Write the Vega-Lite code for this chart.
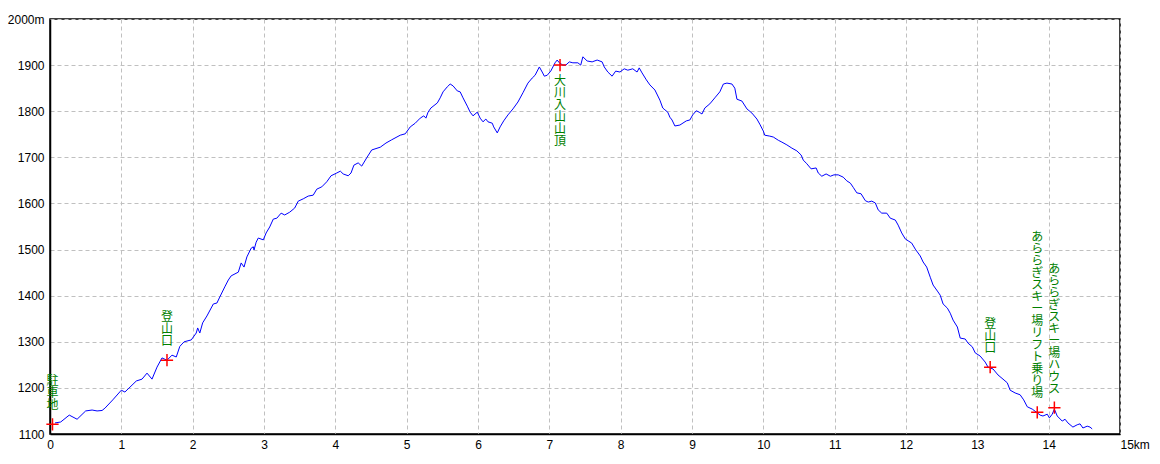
{
  "$schema": "https://vega.github.io/schema/vega-lite/v6.json",
  "width": 1070,
  "height": 415,
  "autosize": {"type": "none"},
  "padding": {"left": 50, "top": 19, "right": 40, "bottom": 30},
  "background": "white",
  "config": {
    "view": {"stroke": "black", "strokeWidth": 1.5},
    "axis": {
      "domainColor": "black", "domainWidth": 1.5, "ticks": false,
      "grid": true, "gridColor": "#c0c0c0", "gridDash": [4, 3], "gridWidth": 1,
      "labelFont": "Liberation Sans", "labelFontSize": 12, "labelColor": "black",
      "title": null
    }
  },
  "datasets": {
    "profile": [
      {"km":0.07,"m":1124},{"km":0.15,"m":1126},{"km":0.27,"m":1141},{"km":0.38,"m":1132},{"km":0.50,"m":1150},{"km":0.59,"m":1152},{"km":0.66,"m":1150},{"km":0.73,"m":1151},{"km":0.77,"m":1156},{"km":0.88,"m":1174},{"km":1.00,"m":1195},{"km":1.05,"m":1191},{"km":1.21,"m":1215},{"km":1.29,"m":1219},{"km":1.36,"m":1232},{"km":1.43,"m":1219},{"km":1.50,"m":1245},{"km":1.57,"m":1265},{"km":1.64,"m":1260},{"km":1.71,"m":1271},{"km":1.77,"m":1267},{"km":1.82,"m":1290},{"km":1.88,"m":1300},{"km":1.98,"m":1304},{"km":2.05,"m":1319},{"km":2.07,"m":1330},{"km":2.10,"m":1319},{"km":2.14,"m":1341},{"km":2.20,"m":1356},{"km":2.29,"m":1382},{"km":2.34,"m":1384},{"km":2.38,"m":1397},{"km":2.45,"m":1419},{"km":2.50,"m":1434},{"km":2.54,"m":1443},{"km":2.64,"m":1451},{"km":2.68,"m":1471},{"km":2.72,"m":1462},{"km":2.76,"m":1484},{"km":2.82,"m":1503},{"km":2.85,"m":1506},{"km":2.86,"m":1499},{"km":2.89,"m":1516},{"km":2.92,"m":1525},{"km":2.99,"m":1521},{"km":3.03,"m":1536},{"km":3.08,"m":1549},{"km":3.13,"m":1566},{"km":3.18,"m":1568},{"km":3.24,"m":1579},{"km":3.29,"m":1575},{"km":3.36,"m":1581},{"km":3.43,"m":1590},{"km":3.48,"m":1605},{"km":3.55,"m":1610},{"km":3.62,"m":1616},{"km":3.69,"m":1618},{"km":3.74,"m":1631},{"km":3.81,"m":1636},{"km":3.88,"m":1647},{"km":3.94,"m":1660},{"km":4.02,"m":1666},{"km":4.07,"m":1670},{"km":4.11,"m":1664},{"km":4.18,"m":1660},{"km":4.22,"m":1666},{"km":4.26,"m":1683},{"km":4.32,"m":1688},{"km":4.37,"m":1681},{"km":4.44,"m":1699},{"km":4.51,"m":1716},{"km":4.63,"m":1722},{"km":4.71,"m":1731},{"km":4.79,"m":1738},{"km":4.91,"m":1748},{"km":4.98,"m":1751},{"km":5.05,"m":1766},{"km":5.12,"m":1774},{"km":5.19,"m":1785},{"km":5.24,"m":1790},{"km":5.27,"m":1785},{"km":5.30,"m":1798},{"km":5.34,"m":1807},{"km":5.43,"m":1818},{"km":5.47,"m":1829},{"km":5.51,"m":1842},{"km":5.57,"m":1853},{"km":5.61,"m":1859},{"km":5.65,"m":1855},{"km":5.71,"m":1844},{"km":5.75,"m":1842},{"km":5.79,"m":1829},{"km":5.85,"m":1811},{"km":5.89,"m":1798},{"km":5.93,"m":1790},{"km":5.99,"m":1798},{"km":6.03,"m":1785},{"km":6.07,"m":1777},{"km":6.11,"m":1783},{"km":6.14,"m":1777},{"km":6.20,"m":1774},{"km":6.22,"m":1766},{"km":6.27,"m":1753},{"km":6.31,"m":1766},{"km":6.36,"m":1779},{"km":6.42,"m":1792},{"km":6.49,"m":1805},{"km":6.56,"m":1820},{"km":6.63,"m":1840},{"km":6.70,"m":1861},{"km":6.76,"m":1872},{"km":6.80,"m":1878},{"km":6.86,"m":1896},{"km":6.90,"m":1885},{"km":6.93,"m":1876},{"km":6.97,"m":1878},{"km":7.02,"m":1887},{"km":7.08,"m":1905},{"km":7.11,"m":1911},{"km":7.14,"m":1905},{"km":7.19,"m":1900},{"km":7.23,"m":1900},{"km":7.28,"m":1907},{"km":7.33,"m":1905},{"km":7.40,"m":1905},{"km":7.44,"m":1900},{"km":7.47,"m":1918},{"km":7.53,"m":1909},{"km":7.60,"m":1907},{"km":7.67,"m":1911},{"km":7.74,"m":1907},{"km":7.77,"m":1896},{"km":7.82,"m":1885},{"km":7.88,"m":1876},{"km":7.93,"m":1887},{"km":7.99,"m":1885},{"km":8.05,"m":1892},{"km":8.10,"m":1889},{"km":8.17,"m":1892},{"km":8.23,"m":1885},{"km":8.26,"m":1894},{"km":8.30,"m":1883},{"km":8.36,"m":1868},{"km":8.41,"m":1857},{"km":8.48,"m":1846},{"km":8.55,"m":1824},{"km":8.59,"m":1807},{"km":8.62,"m":1803},{"km":8.66,"m":1798},{"km":8.69,"m":1787},{"km":8.72,"m":1781},{"km":8.76,"m":1768},{"km":8.83,"m":1770},{"km":8.92,"m":1779},{"km":8.97,"m":1781},{"km":9.01,"m":1792},{"km":9.06,"m":1801},{"km":9.10,"m":1798},{"km":9.14,"m":1794},{"km":9.18,"m":1807},{"km":9.25,"m":1816},{"km":9.32,"m":1829},{"km":9.39,"m":1842},{"km":9.44,"m":1859},{"km":9.49,"m":1861},{"km":9.56,"m":1859},{"km":9.60,"m":1850},{"km":9.63,"m":1826},{"km":9.70,"m":1822},{"km":9.77,"m":1805},{"km":9.84,"m":1796},{"km":9.91,"m":1783},{"km":9.95,"m":1772},{"km":10.00,"m":1757},{"km":10.02,"m":1748},{"km":10.09,"m":1746},{"km":10.14,"m":1744},{"km":10.21,"m":1737},{"km":10.26,"m":1733},{"km":10.33,"m":1727},{"km":10.40,"m":1720},{"km":10.47,"m":1714},{"km":10.53,"m":1705},{"km":10.56,"m":1694},{"km":10.61,"m":1686},{"km":10.67,"m":1675},{"km":10.74,"m":1677},{"km":10.77,"m":1666},{"km":10.82,"m":1659},{"km":10.88,"m":1664},{"km":10.94,"m":1659},{"km":10.99,"m":1662},{"km":11.05,"m":1662},{"km":11.12,"m":1657},{"km":11.17,"m":1649},{"km":11.22,"m":1644},{"km":11.26,"m":1635},{"km":11.31,"m":1623},{"km":11.37,"m":1621},{"km":11.43,"m":1606},{"km":11.47,"m":1603},{"km":11.52,"m":1605},{"km":11.57,"m":1601},{"km":11.61,"m":1586},{"km":11.66,"m":1579},{"km":11.73,"m":1579},{"km":11.78,"m":1568},{"km":11.85,"m":1564},{"km":11.89,"m":1553},{"km":11.94,"m":1536},{"km":11.99,"m":1523},{"km":12.03,"m":1519},{"km":12.08,"m":1514},{"km":12.13,"m":1501},{"km":12.20,"m":1486},{"km":12.24,"m":1473},{"km":12.29,"m":1462},{"km":12.34,"m":1440},{"km":12.38,"m":1423},{"km":12.44,"m":1410},{"km":12.48,"m":1401},{"km":12.52,"m":1382},{"km":12.58,"m":1373},{"km":12.62,"m":1362},{"km":12.66,"m":1347},{"km":12.72,"m":1332},{"km":12.76,"m":1308},{"km":12.83,"m":1306},{"km":12.87,"m":1297},{"km":12.93,"m":1289},{"km":12.97,"m":1276},{"km":13.04,"m":1269},{"km":13.11,"m":1256},{"km":13.15,"m":1245},{"km":13.22,"m":1241},{"km":13.29,"m":1228},{"km":13.36,"m":1219},{"km":13.42,"m":1211},{"km":13.46,"m":1195},{"km":13.53,"m":1189},{"km":13.60,"m":1185},{"km":13.65,"m":1174},{"km":13.70,"m":1159},{"km":13.77,"m":1154},{"km":13.84,"m":1146},{"km":13.88,"m":1141},{"km":13.92,"m":1139},{"km":13.98,"m":1143},{"km":14.01,"m":1135},{"km":14.05,"m":1143},{"km":14.08,"m":1154},{"km":14.12,"m":1139},{"km":14.19,"m":1128},{"km":14.23,"m":1132},{"km":14.27,"m":1124},{"km":14.34,"m":1115},{"km":14.40,"m":1120},{"km":14.44,"m":1122},{"km":14.48,"m":1113},{"km":14.54,"m":1117},{"km":14.58,"m":1115},{"km":14.61,"m":1111}
    ],
    "points": [
      {"km":0.035,"m":1121,"label":"駐\n車\n地","pos":"above"},
      {"km":1.64,"m":1260,"label":"登\n山\n口","pos":"above"},
      {"km":7.15,"m":1900,"label":"大\n川\n入\n山\n山\n頂","pos":"below"},
      {"km":13.18,"m":1245,"label":"登\n山\n口","pos":"above"},
      {"km":13.84,"m":1147,"label":"あ\nら\nら\nぎ\nス\nキ\nー\n場\nリ\nフ\nト\n乗\nり\n場","pos":"above"},
      {"km":14.08,"m":1157,"label":"あ\nら\nら\nぎ\nス\nキ\nー\n場\nハ\nウ\nス","pos":"above"}
    ]
  },
  "encoding": {
    "x": {
      "field": "km", "type": "quantitative",
      "scale": {"domain": [0, 15], "nice": false, "zero": false},
      "axis": {
        "values": [0,1,2,3,4,5,6,7,8,9,10,11,12,13,14,15],
        "labelExpr": "datum.value == 15 ? '15km' : datum.label",
        "labelAlign": {"expr": "datum.value == 15 ? 'left' : 'center'"},
        "labelPadding": 5
      }
    },
    "y": {
      "field": "m", "type": "quantitative",
      "scale": {"domain": [1100, 2000], "nice": false, "zero": false},
      "axis": {
        "values": [1100,1200,1300,1400,1500,1600,1700,1800,1900,2000],
        "labelExpr": "datum.value == 2000 ? '2000m' : datum.label",
        "labelPadding": 6,
        "format": "d"
      }
    }
  },
  "layer": [
    {
      "data": {"name": "profile"},
      "mark": {"type": "line", "color": "#0000ff", "strokeWidth": 1, "interpolate": "linear"}
    },
    {
      "data": {"name": "points"},
      "mark": {"type": "point", "shape": "M-1,0H1M0,-1V1", "size": 150, "stroke": "#ff0000", "strokeWidth": 1.5, "filled": false, "opacity": 1}
    },
    {
      "data": {"name": "points"},
      "transform": [{"filter": "datum.pos == 'above' && length(datum.label) == 5"}],
      "mark": {"type": "text", "baseline": "bottom", "align": "center", "dy": -36, "fontSize": 12, "lineHeight": 12, "lineBreak": "\n", "color": "#008000", "font": "Noto Sans CJK JP"},
      "encoding": {"text": {"field": "label", "type": "nominal"}}
    },
    {
      "data": {"name": "points"},
      "transform": [{"filter": "datum.pos == 'above' && length(datum.label) == 21"}],
      "mark": {"type": "text", "baseline": "bottom", "align": "center", "dy": -132, "fontSize": 12, "lineHeight": 12, "lineBreak": "\n", "color": "#008000", "font": "Noto Sans CJK JP"},
      "encoding": {"text": {"field": "label", "type": "nominal"}}
    },
    {
      "data": {"name": "points"},
      "transform": [{"filter": "datum.pos == 'above' && length(datum.label) == 27"}],
      "mark": {"type": "text", "baseline": "bottom", "align": "center", "dy": -168, "fontSize": 12, "lineHeight": 12, "lineBreak": "\n", "color": "#008000", "font": "Noto Sans CJK JP"},
      "encoding": {"text": {"field": "label", "type": "nominal"}}
    },
    {
      "data": {"name": "points"},
      "transform": [{"filter": "datum.pos == 'below'"}],
      "mark": {"type": "text", "baseline": "top", "align": "center", "dy": 11, "fontSize": 12, "lineHeight": 12, "lineBreak": "\n", "color": "#008000", "font": "Noto Sans CJK JP"},
      "encoding": {"text": {"field": "label", "type": "nominal"}}
    }
  ]
}
